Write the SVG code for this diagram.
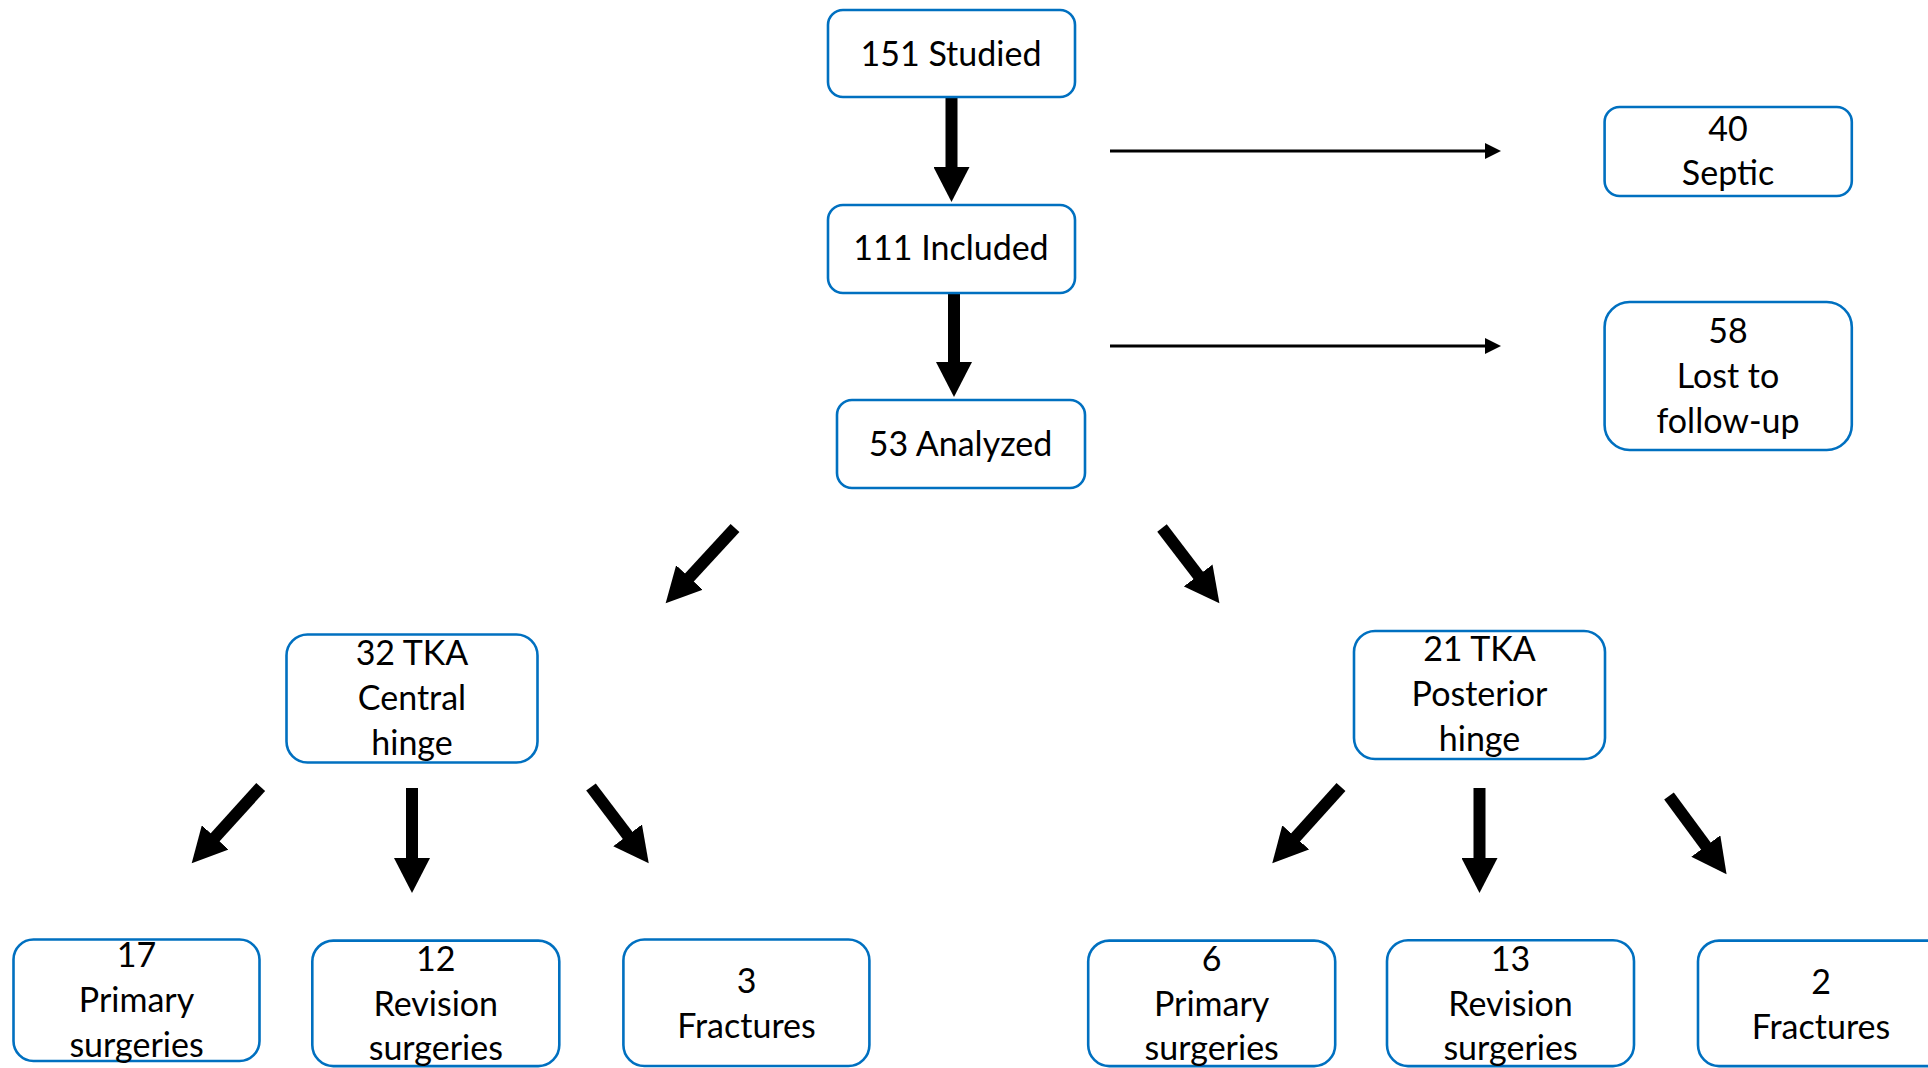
<svg xmlns="http://www.w3.org/2000/svg" width="1928" height="1068" viewBox="0 0 1928 1068">
<style>
.box{fill:#fff;stroke:#0070C0;stroke-width:2.6}
.t{font-family:Lato,"Liberation Sans",sans-serif;font-size:34px;fill:#000;text-anchor:middle}
.big{stroke:#000;stroke-width:12;fill:none;marker-end:url(#bigHead)}
.thin{stroke:#000;stroke-width:3;fill:none;marker-end:url(#thinHead)}
</style>
<defs>
<marker id="bigHead" markerUnits="userSpaceOnUse" markerWidth="36" markerHeight="36" viewBox="0 0 36 36" refX="1" refY="18" orient="auto">
<path d="M0,0 L35,18 L0,36 Z" fill="#000"/>
</marker>
<marker id="thinHead" markerUnits="userSpaceOnUse" markerWidth="16" markerHeight="16" viewBox="0 0 16 16" refX="1" refY="8" orient="auto">
<path d="M0,0 L16,8 L0,16 Z" fill="#000"/>
</marker>
</defs>
<rect width="1928" height="1068" fill="#fff"/>
<g id="connectors">
<line class="big" x1="951.5" y1="97" x2="951.5" y2="168"/>
<line class="big" x1="954" y1="293" x2="954" y2="363"/>
<line class="thin" x1="1110" y1="151" x2="1486" y2="151"/>
<line class="thin" x1="1110" y1="346" x2="1486" y2="346"/>
<line class="big" x1="735" y1="528" x2="688.7" y2="578.2"/>
<line class="big" x1="1162" y1="528" x2="1198.8" y2="576.2"/>
<line class="big" x1="260.7" y1="787" x2="214.5" y2="838.1"/>
<line class="big" x1="412" y1="788" x2="412" y2="859"/>
<line class="big" x1="591" y1="787" x2="628.2" y2="836.1"/>
<line class="big" x1="1341" y1="787" x2="1295" y2="838.1"/>
<line class="big" x1="1479.5" y1="788" x2="1479.5" y2="859"/>
<line class="big" x1="1669" y1="796" x2="1706.4" y2="846.8"/>
</g>
<g id="studied">
<rect class="box" x="828" y="10" width="247" height="87" rx="15"/>
<text class="t" x="951" y="65.5">151 Studied</text>
</g>
<g id="included">
<rect class="box" x="828" y="205" width="247" height="88" rx="15"/>
<text class="t" x="951" y="260">111 Included</text>
</g>
<g id="analyzed">
<rect class="box" x="837" y="400" width="248" height="88" rx="15"/>
<text class="t" x="960.5" y="456">53 Analyzed</text>
</g>
<g id="septic">
<rect class="box" x="1604.6" y="107" width="247.2" height="89" rx="15"/>
<text class="t" x="1728" y="141">40</text>
<text class="t" x="1728" y="185">Septic</text>
</g>
<g id="lost">
<rect class="box" x="1604.6" y="302" width="247.2" height="148" rx="25"/>
<text class="t" x="1728" y="343">58</text>
<text class="t" x="1728" y="388">Lost to</text>
<text class="t" x="1728" y="433">follow-up</text>
</g>
<g id="central">
<rect class="box" x="286.5" y="634.5" width="251" height="128" rx="21"/>
<text class="t" x="412" y="665">32 TKA</text>
<text class="t" x="412" y="710">Central</text>
<text class="t" x="412" y="755">hinge</text>
</g>
<g id="posterior">
<rect class="box" x="1354" y="631" width="251" height="128" rx="21"/>
<text class="t" x="1479.5" y="661">21 TKA</text>
<text class="t" x="1479.5" y="706">Posterior</text>
<text class="t" x="1479.5" y="751">hinge</text>
</g>
<g id="c-primary">
<rect class="box" x="13.5" y="939.5" width="246" height="121.5" rx="20"/>
<text class="t" x="136.5" y="967">17</text>
<text class="t" x="136.5" y="1012">Primary</text>
<text class="t" x="136.5" y="1057">surgeries</text>
</g>
<g id="c-revision">
<rect class="box" x="312.3" y="940.6" width="247" height="125.5" rx="21"/>
<text class="t" x="435.8" y="971">12</text>
<text class="t" x="435.8" y="1015.5">Revision</text>
<text class="t" x="435.8" y="1060">surgeries</text>
</g>
<g id="c-fractures">
<rect class="box" x="623.4" y="939.5" width="246" height="126.5" rx="21"/>
<text class="t" x="746.5" y="993">3</text>
<text class="t" x="746.5" y="1038">Fractures</text>
</g>
<g id="p-primary">
<rect class="box" x="1088.2" y="940.6" width="247" height="125.5" rx="21"/>
<text class="t" x="1211.7" y="971">6</text>
<text class="t" x="1211.7" y="1015.5">Primary</text>
<text class="t" x="1211.7" y="1060">surgeries</text>
</g>
<g id="p-revision">
<rect class="box" x="1387" y="940.3" width="247" height="125.8" rx="21"/>
<text class="t" x="1510.5" y="971">13</text>
<text class="t" x="1510.5" y="1015.5">Revision</text>
<text class="t" x="1510.5" y="1060">surgeries</text>
</g>
<g id="p-fractures">
<rect class="box" x="1698" y="940.6" width="260" height="125.5" rx="21"/>
<text class="t" x="1821" y="994">2</text>
<text class="t" x="1821" y="1039">Fractures</text>
</g>
</svg>
